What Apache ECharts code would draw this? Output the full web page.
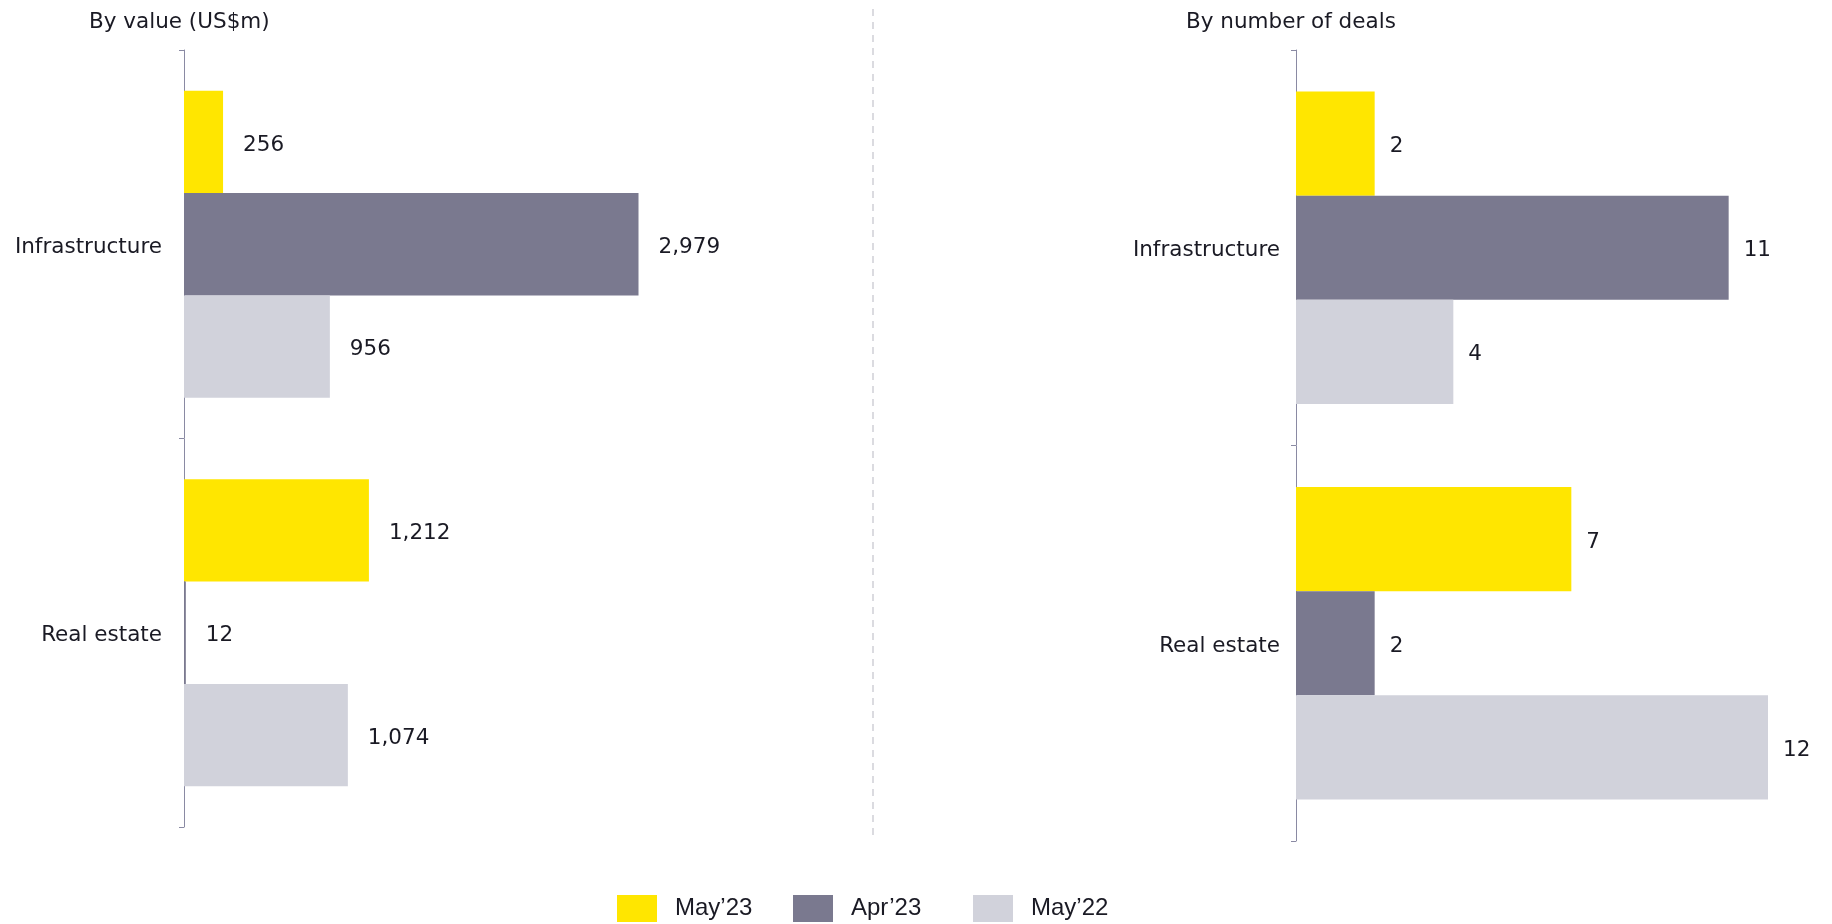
<!DOCTYPE html>
<html>
<head>
<meta charset="utf-8">
<script src="https://cdn.jsdelivr.net/npm/echarts@6/dist/echarts.min.js"></script>
<style>
html,body{margin:0;padding:0;background:#fff;}
#chart{width:1832px;height:924px;}
</style>
</head>
<body>
<div id="chart"></div>
<script>
const categories = ['Infrastructure', 'Real estate'];
const seriesNames = ["May\u201923", "Apr\u201923", "May\u201922"];
const valueMay23 = [256, 1212];
const valueApr23 = [2979, 12];
const valueMay22 = [956, 1074];
const dealsMay23 = [2, 7];
const dealsApr23 = [11, 2];
const dealsMay22 = [4, 12];
const titles = ['By value (US$m)', 'By number of deals'];

const colors = ['#FFE600', '#7A798F', '#D1D2DB'];
const labelFont = '"DejaVu Sans", sans-serif';
const fs = 21.5;
const textColor = '#1a1a24';

const chart = echarts.init(document.getElementById('chart'));

function makeSeries(name, data, idx, grid, dist, fmt) {
  return {
    name: name, type: 'bar', data: data,
    xAxisIndex: grid, yAxisIndex: grid,
    barGap: '0%', barCategoryGap: '21%',
    itemStyle: { color: colors[idx] },
    label: {
      show: true, position: 'right', distance: dist, offset: [0, 3],
      color: textColor, fontFamily: labelFont, fontSize: fs,
      formatter: p => fmt(p.value)
    },
    emphasis: { disabled: true },
    silent: true
  };
}
const fmtThousands = v => v.toLocaleString('en-US');
const fmtPlain = v => String(v);

const yAxisCommon = {
  type: 'category', data: categories, inverse: true,
  axisLine: { show: true, lineStyle: { color: '#8a8aa3', width: 1 } },
  axisTick: { show: true, length: 5, lineStyle: { color: '#8a8aa3' } },
  axisLabel: {
    formatter: '{a|{value}}',
    rich: { a: { color: textColor, fontFamily: labelFont, fontSize: fs, padding: [6, 0, 0, 0] } }
  }
};

const legendItemLefts = [617, 793, 973];
const legends = seriesNames.map((n, i) => ({
  data: [n], bottom: 2, left: legendItemLefts[i], padding: 0,
  itemWidth: 40, itemHeight: 27, icon: 'rect', selectedMode: false,
  textStyle: { fontFamily: '"Liberation Sans", Arial, sans-serif', fontSize: 24, color: textColor, padding: [0, 0, 0, 13] }
}));

chart.setOption({
  animation: false,
  title: [
    { text: titles[0], left: 89, top: 11, padding: 0, textStyle: { fontFamily: labelFont, fontSize: fs, fontWeight: 'normal', color: textColor } },
    { text: titles[1], left: 1186, top: 11, padding: 0, textStyle: { fontFamily: labelFont, fontSize: fs, fontWeight: 'normal', color: textColor } }
  ],
  legend: legends,
  grid: [
    { left: 184, top: 50, width: 534, height: 777 },
    { left: 1296, top: 50, width: 472, height: 791 }
  ],
  xAxis: [
    { type: 'value', gridIndex: 0, min: 0, max: 3500, show: false },
    { type: 'value', gridIndex: 1, min: 0, max: 12, show: false }
  ],
  yAxis: [
    Object.assign({ gridIndex: 0 }, yAxisCommon, { axisLabel: Object.assign({}, yAxisCommon.axisLabel, { margin: 22 }) }),
    Object.assign({ gridIndex: 1 }, yAxisCommon, { axisLabel: Object.assign({}, yAxisCommon.axisLabel, { margin: 16 }) })
  ],
  graphic: [
    { type: 'line', shape: { x1: 873, y1: 9, x2: 873, y2: 835 }, style: { stroke: '#cfcfd6', lineWidth: 1.5, lineDash: [7, 6] }, silent: true }
  ],
  series: [
    makeSeries(seriesNames[0], valueMay23, 0, 0, 20, fmtThousands),
    makeSeries(seriesNames[1], valueApr23, 1, 0, 20, fmtThousands),
    makeSeries(seriesNames[2], valueMay22, 2, 0, 20, fmtThousands),
    makeSeries(seriesNames[0], dealsMay23, 0, 1, 15, fmtPlain),
    makeSeries(seriesNames[1], dealsApr23, 1, 1, 15, fmtPlain),
    makeSeries(seriesNames[2], dealsMay22, 2, 1, 15, fmtPlain)
  ]
});
</script>
</body>
</html>
